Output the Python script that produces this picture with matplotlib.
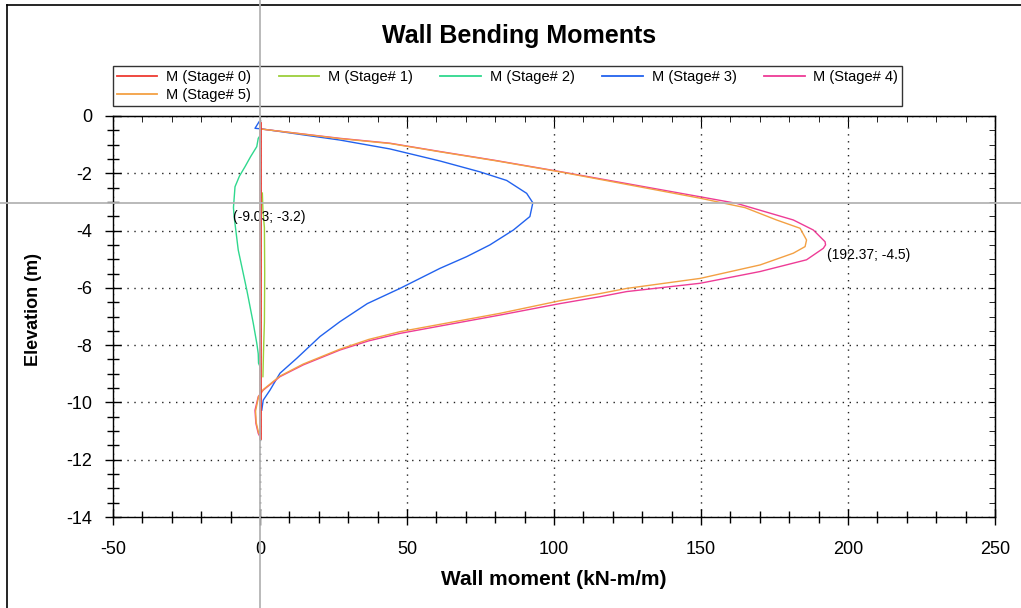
import matplotlib
matplotlib.use('Agg')
import matplotlib.pyplot as plt
import matplotlib.transforms as mtransforms
from matplotlib.lines import Line2D
from matplotlib.ticker import MultipleLocator

# values (moment kN-m/m, elevation m)
s0_x = [0.0, 0.0]
s0_y = [-0.25, -11.25]

s1_x = [0.8, 1.0, 1.5, 1.6, 1.5, 1.2, 1.0]
s1_y = [-2.69, -3.3, -3.9, -5.5, -7.2, -8.2, -9.1]

s2_x = [-0.2, -0.6, -1.1, -3.2, -5.1, -7.0, -8.5, -9.03, -8.8, -7.4, -4.5, -2.3, -1.1, -0.6, -0.5, -0.2]
s2_y = [-0.72, -0.78, -1.07, -1.42, -1.77, -2.1, -2.47, -3.2, -3.51, -4.68, -6.07, -7.23, -7.93, -8.3, -8.63, -8.7]

s3_x = [-0.3, -1.7, 0.5, 27.2, 44.2, 61.2, 74.8, 83.9, 90.7, 92.8, 91.8, 86.2, 78.2, 70.3,
        61.2, 47.6, 36.5, 27.2, 20.4, 12.5, 6.8, 3.4, 1.1, 0.6]
s3_y = [-0.2, -0.43, -0.45, -0.84, -1.15, -1.57, -1.95, -2.25, -2.70, -3.03, -3.51, -3.98, -4.5, -4.91,
        -5.32, -6.02, -6.55, -7.18, -7.70, -8.46, -8.98, -9.57, -9.92, -10.27]

s4_x = [0.0, 27.2, 44.2, 61.2, 80.0, 102.0, 149.7, 162.1, 181.4, 188.2, 192.2, 192.37, 191.6, 185.9,
        170.1, 149.7, 124.7, 115.6, 102.0, 81.6, 47.6, 37.0, 27.2, 14.7, 6.8, 1.1, -0.6, -1.7, -1.4, -0.6, 0.0]
s4_y = [-0.45, -0.78, -0.95, -1.24, -1.55, -1.94, -2.82, -3.05, -3.63, -3.98, -4.39, -4.5, -4.62, -5.02,
        -5.43, -5.84, -6.13, -6.31, -6.55, -6.95, -7.59, -7.85, -8.17, -8.69, -9.10, -9.57, -9.80, -10.27, -10.73, -11.08, -11.2]

s5_x = [0.0, 27.2, 44.2, 61.2, 80.0, 102.0, 149.7, 165.0, 175.7, 183.7, 185.9, 185.4, 181.4,
        170.1, 149.7, 124.7, 115.6, 102.0, 81.6, 47.6, 37.0, 27.2, 14.7, 6.8, 1.1, -0.5, -1.5, -1.3, -0.5, 0.0]
s5_y = [-0.45, -0.79, -0.96, -1.25, -1.56, -1.95, -2.87, -3.2, -3.63, -3.92, -4.33, -4.56, -4.79,
        -5.20, -5.67, -6.02, -6.20, -6.45, -6.89, -7.53, -7.80, -8.14, -8.66, -9.08, -9.55, -9.80, -10.3, -10.7, -11.05, -11.15]

labels = ['M (Stage# 0)', 'M (Stage# 1)', 'M (Stage# 2)', 'M (Stage# 3)', 'M (Stage# 4)', 'M (Stage# 5)']
colors = ['#ee3b32', '#9ccf3a', '#2fd88e', '#2262ee', '#ee3c96', '#f3a043']

plt.rcParams['font.family'] = ['Liberation Sans', 'DejaVu Sans']
plt.rcParams['axes.unicode_minus'] = False

fig = plt.figure(figsize=(10.21, 6.08), dpi=100)
ax = fig.add_axes([113 / 1021, 1 - 517 / 608, 882 / 1021, 401 / 608])

series = [(s0_x, s0_y), (s1_x, s1_y), (s2_x, s2_y), (s3_x, s3_y), (s4_x, s4_y), (s5_x, s5_y)]
for i, (xs, ys) in enumerate(series):
    if i == 0:
        # stage 0 sits on top of the others
        ax.plot(xs, ys, color=colors[i], lw=2.0, zorder=5)
    else:
        ax.plot(xs, ys, color=colors[i], lw=1.0)

ax.set_xlim(-50, 250)
ax.set_ylim(-14, 0)
ax.xaxis.set_major_locator(MultipleLocator(50))
ax.xaxis.set_minor_locator(MultipleLocator(10))
ax.yaxis.set_major_locator(MultipleLocator(2))
ax.yaxis.set_minor_locator(MultipleLocator(0.5))
ax.tick_params(which='major', direction='inout', length=12, width=1, labelsize=13)
ax.tick_params(which='minor', direction='inout', length=8, width=1)
ax.tick_params(axis='x', which='major', pad=11)
ax.tick_params(axis='y', which='major', pad=9)
for sp in ax.spines.values():
    sp.set_linewidth(1.0)
    sp.set_color('black')

# top and right ticks point inwards
top = ax.secondary_xaxis('top')
top.xaxis.set_major_locator(MultipleLocator(50))
top.xaxis.set_minor_locator(MultipleLocator(10))
top.tick_params(which='major', direction='in', length=8, labeltop=False)
top.tick_params(which='minor', direction='in', length=4)
right = ax.secondary_yaxis('right')
right.yaxis.set_major_locator(MultipleLocator(2))
right.yaxis.set_minor_locator(MultipleLocator(0.5))
right.tick_params(which='major', direction='in', length=4, labelright=False)
right.tick_params(which='minor', direction='in', length=4)

ax.grid(True, which='major', color='#222222', linestyle=(0, (1, 4)), lw=1.0)

ax.set_xlabel('Wall moment (kN-m/m)', fontsize=15, fontweight='bold')
ax.xaxis.set_label_coords(0.5, -(570 - 517) / 401)
ax.set_ylabel('Elevation (m)', fontsize=13, fontweight='bold')
ax.yaxis.set_label_coords((42 - 113) / 882, (517 - 310) / 401)
fig.text(519 / 1021, 1 - 36 / 608, 'Wall Bending Moments', fontsize=18, fontweight='bold',
         ha='center', va='center')

ax.annotate('(-9.03; -3.2)', (-9.03, -3.2), xytext=(0, -2), textcoords='offset points',
            fontsize=10, ha='left', va='top')
ax.annotate('(192.37; -4.5)', (192.37, -4.5), xytext=(1, -2), textcoords='offset points',
            fontsize=10, ha='left', va='top')

# legend fills row by row: first column holds stage 0 and stage 5
handles = [Line2D([], [], color=c, lw=1.3) for c in colors]
order = [0, 5, 1, 2, 3, 4]
leg = fig.legend([handles[k] for k in order], [labels[k] for k in order], ncol=5, mode='expand',
                 bbox_to_anchor=(113 / 1021, 1 - 106 / 608, 789 / 1021, 40 / 608),
                 loc='lower left', fontsize=10.5, handlelength=2.8, handletextpad=0.6,
                 frameon=True, fancybox=False, borderaxespad=0, borderpad=0.25, labelspacing=0.3)
leg.get_frame().set_edgecolor('black')
leg.get_frame().set_linewidth(1.0)

# cursor crosshair spanning the whole picture
vtr = mtransforms.blended_transform_factory(ax.transData, fig.transFigure)
htr = mtransforms.blended_transform_factory(fig.transFigure, ax.transData)
fig.add_artist(Line2D([0, 0], [0, 1], transform=vtr, color='#b4b4b4', lw=1.3, zorder=10))
fig.add_artist(Line2D([0, 1], [-3.04, -3.04], transform=htr, color='#b4b4b4', lw=1.3, zorder=10))

# window frame on left and top
fig.add_artist(Line2D([7 / 1021, 7 / 1021], [0, 1 - 5 / 608], transform=fig.transFigure, color='black', lw=1.2))
fig.add_artist(Line2D([7 / 1021, 1], [1 - 5 / 608, 1 - 5 / 608], transform=fig.transFigure, color='black', lw=1.2))

fig.savefig('out.png', dpi=100)
